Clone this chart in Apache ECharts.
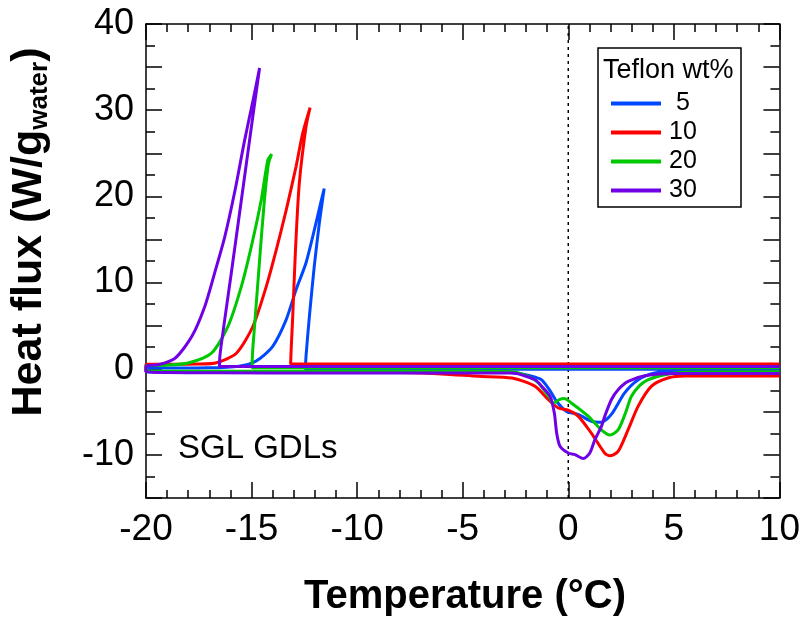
<!DOCTYPE html>
<html>
<head>
<meta charset="utf-8">
<title>Heat flux</title>
<script src="https://cdn.jsdelivr.net/npm/echarts@6/dist/echarts.min.js"></script>
<style>
	html, body { margin:0; padding:0; background:#fff; }
	#heatChart { width:803px; height:620px; }
</style>
</head>
<body>
<div id="heatChart"></div>
<script>
// legend names
var seriesNames = [' 5', '10', '20', '30'];
var seriesColors = ['#0048ff', '#ff0000', '#00c800', '#7000e6'];

// 5 wt% : cooling (freeze peak) then heating (melt dip)
var data5 = [
	[10,-0.05],[-12.45,-0.05],[-12.42,1.5],[-12.26,6.1],[-12.03,11.9],[-11.79,16.9],[-11.56,20.9],
	[-11.7,19.5],[-11.95,16.9],[-12.42,12.3],[-12.89,9.2],[-13.36,5.7],[-14.0,2.6],[-14.78,0.9],[-15.6,0.3],[-17,0.1],[-20,0.05],
	[-20,-0.35],[-5,-0.35],[-3,-0.4],[-2.2,-0.6],[-1.6,-0.95],[-1.26,-1.3],[-0.85,-2.6],[-0.55,-3.8],[-0.08,-4.95],
	[0.47,-5.3],[1.1,-6.1],[1.57,-6.2],[2.04,-5.3],[2.67,-2.8],[3.3,-1.3],[4.09,-0.5],[5,-0.3],[10,-0.3]
];
// 10 wt%
var data10 = [
	[10,0.55],[-13.15,0.55],[-13.12,2.5],[-13.05,6.1],[-12.92,13.8],[-12.74,21.5],[-12.42,28.1],[-12.23,30.3],
	[-12.58,27.3],[-12.89,23.5],[-13.36,18.4],[-13.83,13.8],[-14.31,9.5],[-14.94,4.9],[-15.72,1.8],[-16.66,0.7],[-17.5,0.55],[-20,0.5],
	[-20,-0.3],[-10,-0.4],[-8,-0.45],[-6,-0.6],[-4.25,-0.88],[-2.67,-1.08],[-1.57,-2.05],[-0.94,-3.6],[-0.47,-4.56],[0,-4.8],
	[0.47,-5.5],[1.1,-7.5],[1.73,-9.8],[1.97,-10.1],[2.36,-9.6],[2.83,-7.1],[3.3,-4.4],[3.93,-2.05],[4.72,-1.08],[5.5,-0.85],[10,-0.85]
];
// 20 wt%
var data20 = [
	[10,0.1],[-14.98,0.1],[-14.95,2],[-14.86,4.9],[-14.62,12.6],[-14.39,19.6],[-14.2,23.8],[-14.05,24.9],
	[-14.23,24.2],[-14.54,19.6],[-15.01,14.2],[-15.49,9.5],[-16.12,4.9],[-16.9,1.8],[-18.0,0.66],[-19.1,0.4],[-20,0.35],
	[-20,-0.3],[-5,-0.3],[-2.67,-0.35],[-1.9,-0.9],[-1.42,-1.66],[-0.9,-3.3],[-0.71,-4.0],[-0.4,-3.55],[-0.19,-3.45],
	[0.16,-4.0],[0.94,-5.5],[1.57,-7.1],[1.97,-7.7],[2.36,-7.1],[2.7,-5.2],[2.99,-3.2],[3.4,-1.9],[3.77,-1.28],[4.56,-0.7],[5.5,-0.4],[10,-0.35]
];
// 30 wt%
var data30 = [
	[10,0.25],[-16.52,0.25],[-16.5,1.5],[-16.3,5.2],[-15.96,11.1],[-15.33,22.3],[-14.9,30],[-14.62,34.9],
	[-14.9,31.5],[-15.33,26.5],[-15.8,20.5],[-16.27,15.3],[-16.75,11.1],[-17.22,7.2],[-17.84,3.7],[-18.63,1.2],[-19.42,0.46],[-20,0.3],
	[-20,-0.35],[-12,-0.5],[-5,-0.5],[-2.67,-0.5],[-1.57,-1.28],[-1.2,-2.2],[-0.86,-3.2],[-0.66,-5.14],[-0.55,-7.46],[-0.39,-9.0],
	[0,-9.78],[0.31,-9.97],[0.71,-10.43],[1.02,-9.78],[1.26,-8.23],[1.57,-6.69],[1.73,-5.5],[2.04,-3.6],[2.36,-2.43],[2.83,-1.47],[3.62,-0.81],[5,-0.55],[10,-0.55]
];
// dotted line at 0 °C
var zeroLine = [[0,-15],[0,40]];

var allData = [data5, data10, data20, data30];
var fontName = "'Liberation Sans', Arial, sans-serif";

function yLabel(v) {
	return (v % 10 == 0) ? String(v) : '';
}

var myChart = echarts.init(document.getElementById('heatChart'));

var seriesArr = [];
for (var i = 0; i < allData.length; i++) {
	seriesArr.push({
		name: seriesNames[i],
		type: 'line',
		data: allData[i],
		smooth: 0.25,
		symbol: 'none',
		lineStyle: { color: seriesColors[i], width: 3 },
		itemStyle: { color: seriesColors[i] },
		z: 3
	});
}
seriesArr.push({
	type: 'line',
	data: zeroLine,
	symbol: 'none',
	silent: true,
	lineStyle: { color: '#000', width: 1.5, type: [3, 4] },
	z: 2
});

var tickStyle = { color: '#000', width: 1.5 };
var option = {
	animation: false,
	backgroundColor: '#fff',
	textStyle: { fontFamily: fontName },
	grid: { left: 146, top: 24, width: 636, height: 474, containLabel: false },
	legend: {
		data: seriesNames,
		orient: 'vertical',
		left: 606,
		top: 86,
		itemWidth: 50,
		itemHeight: 4,
		itemGap: 4,
		icon: 'rect',
		z: 20,
		textStyle: { fontSize: 25, color: '#000', fontFamily: fontName, lineHeight: 22, padding: [0,0,0,3] }
	},
	xAxis: [{
		type: 'value', min: -20, max: 10, interval: 5, position: 'bottom',
		axisLine: { onZero: false, lineStyle: tickStyle },
		axisTick: { inside: true, length: 16, lineStyle: tickStyle },
		minorTick: { show: true, splitNumber: 5, length: 8, lineStyle: tickStyle },
		splitLine: { show: false },
		axisLabel: { fontSize: 37, color: '#000', margin: 13, fontFamily: fontName }
	}, {
		type: 'value', min: -20, max: 10, interval: 5, position: 'top',
		axisLine: { onZero: false, lineStyle: tickStyle },
		axisTick: { inside: true, length: 16, lineStyle: tickStyle },
		minorTick: { show: true, splitNumber: 5, length: 8, lineStyle: tickStyle },
		splitLine: { show: false },
		axisLabel: { show: false }
	}],
	yAxis: [{
		type: 'value', min: -15, max: 40, interval: 5, position: 'left',
		axisLine: { onZero: false, lineStyle: tickStyle },
		axisTick: { inside: true, length: 16, lineStyle: tickStyle },
		minorTick: { show: true, splitNumber: 2, length: 9, lineStyle: tickStyle },
		splitLine: { show: false },
		axisLabel: { fontSize: 36, color: '#000', margin: 12, fontFamily: fontName, formatter: yLabel }
	}, {
		type: 'value', min: -15, max: 40, interval: 5, position: 'right',
		axisLine: { onZero: false, lineStyle: tickStyle },
		axisTick: { inside: true, length: 16, lineStyle: tickStyle },
		minorTick: { show: true, splitNumber: 2, length: 9, lineStyle: tickStyle },
		splitLine: { show: false },
		axisLabel: { show: false }
	}],
	graphic: [
		{
			type: 'rect', z: 10,
			shape: { x: 598, y: 48, width: 143, height: 159 },
			style: { fill: '#fff', stroke: '#000', lineWidth: 1.5 }
		},
		{
			type: 'text', z: 11, x: 603, y: 71,
			style: { text: 'Teflon wt%', fontSize: 27, fontFamily: fontName, fill: '#000', verticalAlign: 'middle' }
		},
		{
			type: 'text', z: 11, x: 178, y: 449,
			style: { text: 'SGL GDLs', fontSize: 33, fontFamily: fontName, fill: '#000', verticalAlign: 'middle' }
		},
		{
			type: 'text', z: 11, x: 465, y: 597,
			style: { text: 'Temperature (°C)', fontSize: 40, fontWeight: 'bold', fontFamily: fontName, fill: '#000', align: 'center', verticalAlign: 'middle' }
		},
		{
			type: 'text', z: 11, x: 29, y: 232, rotation: Math.PI / 2,
			style: {
				text: 'Heat flux (W/g{s|water})',
				fontSize: 43, fontWeight: 'bold', fontFamily: fontName, fill: '#000',
				align: 'center', verticalAlign: 'middle',
				rich: {
					s: { fontSize: 26, fontWeight: 'bold', fontFamily: fontName, fill: '#000', padding: [22, 0, 0, 0] }
				}
			}
		}
	],
	series: seriesArr
};
myChart.setOption(option, true);
</script>
</body>
</html>
